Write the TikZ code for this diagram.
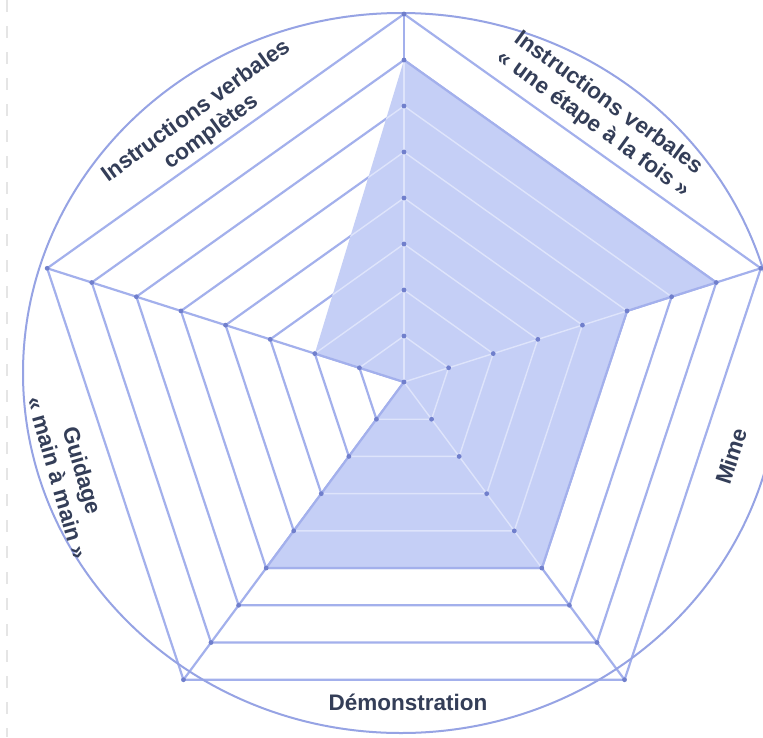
\documentclass[tikz,border=0pt]{standalone}
\usepackage{fontspec}
\setmainfont{Liberation Sans}
\definecolor{gridc}{RGB}{163,176,236}
\definecolor{lightc}{RGB}{222,228,251}
\definecolor{fillc}{RGB}{197,207,246}
\definecolor{dotc}{RGB}{112,127,204}
\definecolor{circc}{RGB}{150,163,228}
\definecolor{labc}{RGB}{52,62,88}
\tikzset{
  gridline/.style={draw=gridc, line width=2.2pt, line join=round},
  innerline/.style={draw=lightc, line width=1.4pt, line join=round},
  lab/.style={font=\fontsize{22.5}{26}\selectfont\bfseries, text=labc, align=center, inner sep=0pt},
  dotmark/.style={fill=dotc},
}
\begin{document}
\begin{tikzpicture}[x=1pt,y=-1pt]
\useasboundingbox (0,0) rectangle (763,737);
\fill[white] (0,0) rectangle (763,737);
% faint dashed edge
\coordinate (e1) at (7,0);
\coordinate (e2) at (7,737);
\draw[black!10, line width=2.5pt, dash pattern=on 12pt off 14pt] (e1) -- (e2);
% coordinates
\coordinate (c) at (404,382);
\foreach \i in {0,...,4}{
  \foreach \k in {1,...,8}{
    \pgfmathsetmacro{\ang}{90-72*\i}
    \coordinate (p-\i-\k) at ({404+46.9*\k*cos(\ang)},{382-46*\k*sin(\ang)});
  }
}
% grid
\foreach \k in {1,...,8}
  \draw[gridline] (p-0-\k) -- (p-1-\k) -- (p-2-\k) -- (p-3-\k) -- (p-4-\k) -- cycle;
\foreach \i in {0,...,4}
  \draw[gridline] (c) -- (p-\i-8);
% data area
\fill[fillc] (p-0-7) -- (p-1-7) -- (p-1-5) -- (p-2-5) -- (p-3-5) -- (c) -- (p-4-2) -- cycle;
\begin{scope}
  \clip (p-0-7) -- (p-1-7) -- (p-1-5) -- (p-2-5) -- (p-3-5) -- (c) -- (p-4-2) -- cycle;
  \foreach \k in {1,...,8}
    \draw[innerline] (p-0-\k) -- (p-1-\k) -- (p-2-\k) -- (p-3-\k) -- (p-4-\k) -- cycle;
  \foreach \i in {0,...,4}
    \draw[innerline] (c) -- (p-\i-8);
\end{scope}
\draw[gridline] (p-0-7) -- (p-1-7) -- (p-1-5) -- (p-2-5) -- (p-3-5) -- (c) -- (p-4-2);
% outer circle
\coordinate (oc) at (401,373);
\draw[circc, line width=2pt] (oc) ellipse [x radius=378pt, y radius=360pt];
% dots
\fill[dotmark] (c) circle[radius=2.4pt];
\foreach \i in {0,...,4}
  \foreach \k in {1,...,8}
    \fill[dotmark] (p-\i-\k) circle[radius=2.4pt];
% labels
\node[lab, rotate=36] (l1) at (204,122) {Instructions verbales\\complètes};
\node[lab, rotate=-36] (l2) at (601,114) {Instructions verbales\\« une étape à la fois »};
\node[lab, rotate=72] (l3) at (731,456) {Mime};
\node[lab] (l4) at (408,702) {Démonstration};
\node[lab, rotate=-74] (l5) at (70,474) {Guidage\\« main à main »};
\end{tikzpicture}
\end{document}
